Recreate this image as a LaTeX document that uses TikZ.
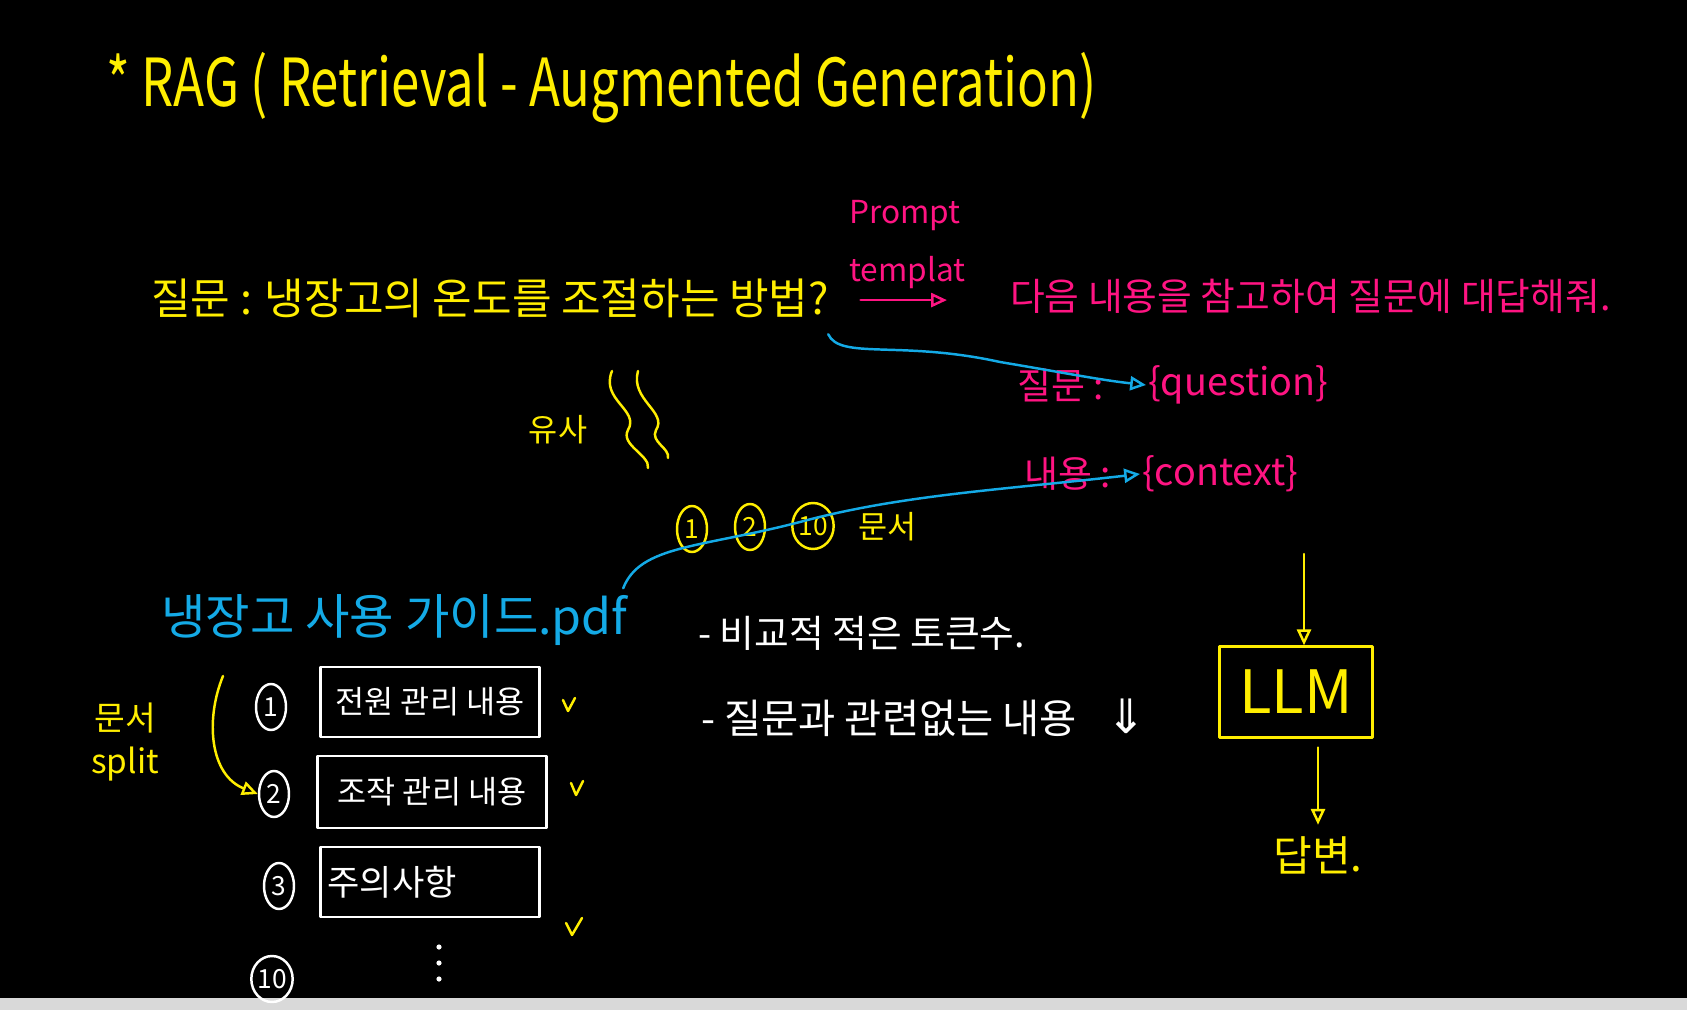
\documentclass[tikz,border=0pt]{standalone}
\usepackage{fontspec}
\setmainfont{Noto Sans CJK KR}
\newfontfamily\symfont{DejaVu Sans}
\usetikzlibrary{arrows.meta,shapes.geometric,positioning}

\definecolor{hwyellow}{RGB}{255,238,0}
\definecolor{hwpink}{RGB}{255,20,130}
\definecolor{hwblue}{RGB}{20,170,230}
\definecolor{barbg}{RGB}{217,217,217}

\tikzset{
  ink/.style={line width=1.4pt, line cap=round, line join=round},
  hwtip/.style={-{Triangle[open,length=9pt,width=8pt]}},
  circ/.style={ellipse, draw, ink, inner sep=0pt, minimum width=0.6cm, minimum height=0.92cm, font=\fontsize{15}{15}\selectfont},
  chunk/.style={draw=white, ink, minimum width=4.38cm, minimum height=1.4cm, text=white, font=\fontsize{18}{19}\selectfont},
}

\begin{document}
\begin{tikzpicture}[x=0.02cm, y=-0.02cm]
  % board
  \fill[black] (0,0) rectangle (1687,1010);
  \fill[barbg] (0,998) rectangle (1687,1010);
  \useasboundingbox (0,0) rectangle (1687,1010);

  % title
  \node[anchor=west, text=hwyellow, font=\fontsize{29}{30}\selectfont] (title) at (100,88) {\scalebox{1}[1.3]{* RAG ( Retrieval - Augmented Generation)}};

  % question
  \node[anchor=west, text=hwyellow, font=\fontsize{24.5}{26}\selectfont] (q) at (145,298) {질문 : 냉장고의 온도를 조절하는 방법?};
  \node[text=hwyellow, font=\fontsize{18}{20}\selectfont] (sim) at (558,430) {유사};
  \draw[hwyellow, ink] (612,371) .. controls (600,400) and (640,410) .. (628,430) .. controls (620,445) and (650,455) .. (648,468);
  \draw[hwyellow, ink] (638,371) .. controls (630,400) and (668,412) .. (656,430) .. controls (650,442) and (670,448) .. (668,458);

  % prompt template
  \node[anchor=north west, align=left, text=hwpink, font=\fontsize{18}{33}\selectfont] (pt) at (843,194) {Prompt\\templat};
  \draw[hwpink, ink, hwtip] ([xshift=10pt,yshift=-3pt]pt.south west) -- ([xshift=-14pt,yshift=-3pt]pt.south east);
  \node[anchor=west, text=hwpink, font=\fontsize{21.5}{23}\selectfont] (tsent) at (1004,296) {다음 내용을 참고하여 질문에 대답해줘.};
  \node[anchor=west, text=hwpink, font=\fontsize{21}{22}\selectfont] (tqlab) at (1011,385) {질문 :};
  \node[anchor=west, text=hwpink, font=\fontsize{21.5}{22}\selectfont, inner sep=1pt] (tqvar) at (1146,385) {\{question\}};
  \node[anchor=west, text=hwpink, font=\fontsize{21}{22}\selectfont] (tclab) at (1018,474) {내용 :};
  \node[anchor=west, text=hwpink, font=\fontsize{21.5}{22}\selectfont, inner sep=1pt] (tcvar) at (1140,474) {\{context\}};

  % document
  \node[anchor=west, text=hwblue, font=\fontsize{27.5}{29}\selectfont] (pdf) at (155,620) {냉장고 사용 가이드.pdf};

  % retrieved chunks
  \node[circ, draw=hwyellow, text=hwyellow] (c1) at (692,529) {1};
  \node[circ, draw=hwyellow, text=hwyellow] (c2) at (750,527) {2};
  \node[circ, draw=hwyellow, text=hwyellow, minimum width=0.7cm] (c3) at (813,526) {10};
  \node[anchor=west, text=hwyellow, font=\fontsize{18}{19}\selectfont] (docs) at (852,527) {문서};

  % blue links
  \draw[hwblue, ink, hwtip] ([xshift=-4pt,yshift=-6pt]q.south east) .. controls (840,360) and (900,340) .. (1000,362) .. controls (1060,372) and (1100,380) .. (tqvar.west);
  \draw[hwblue, ink, hwtip] ([xshift=-6pt]pdf.north east) .. controls (640,545) and (700,548) .. (800,522) .. controls (900,495) and (1000,490) .. (tcvar.west);

  % split
  \node[align=center, text=hwyellow, font=\fontsize{19}{24}\selectfont] (split) at (125,742) {문서\\split};
  \node[circ, draw=white, text=white] (n1) at (271,707) {1};
  \node[circ, draw=white, text=white] (n2) at (274,794) {2};
  \node[circ, draw=white, text=white] (n3) at (279,886) {3};
  \node[circ, draw=white, text=white, minimum width=0.75cm] (n10) at (272,979) {10};
  \coordinate (splitstart) at (223,676);
  \draw[hwyellow, ink, hwtip] (splitstart) .. controls (205,720) and (210,775) .. (n2.west);

  \node[chunk] (b1) at (430,702) {전원 관리 내용};
  \node[chunk, minimum width=4.58cm, minimum height=1.44cm] (b2) at (432,792) {조작 관리 내용};
  \node[chunk, text width=4.1cm, align=left, font=\fontsize{20}{21}\selectfont] (b3) at (430,882) {주의사항};
  \fill[white] (439,947) circle (2.6) (439,963) circle (2.6) (439,979) circle (2.6);

  % checks
  \draw[hwyellow, ink] (563,700) -- (568,711) -- (575,698);
  \draw[hwyellow, ink] (571,783) -- (576,795) -- (583,781);
  \draw[hwyellow, ink] (566,923) -- (572,935) -- (582,918);

  % notes
  \node[anchor=west, text=white, font=\fontsize{21.5}{23}\selectfont] (note1) at (692,633) {- 비교적 적은 토큰수.};
  \node[anchor=west, text=white, font=\fontsize{23}{25}\selectfont] (note2) at (695,718) {- 질문과 관련없는 내용 \hspace{0.5em}{\symfont\fontsize{27}{27}\selectfont ⇓}};

  % llm
  \node[draw=hwyellow, ink, text=hwyellow, minimum width=3.06cm, minimum height=1.82cm, font=\fontsize{34}{36}\selectfont] (llm) at (1296,692) {LLM};
  \coordinate (tin) at (1304,554);
  \draw[hwyellow, ink, hwtip] (tin) -- (llm.north -| tin);
  \node[text=hwyellow, font=\fontsize{24}{26}\selectfont] (ans) at (1318,855) {답변.};
  \draw[hwyellow, ink, hwtip] ([yshift=-5pt]llm.south -| ans.north) -- ([yshift=3pt]ans.north);
\end{tikzpicture}
\end{document}
